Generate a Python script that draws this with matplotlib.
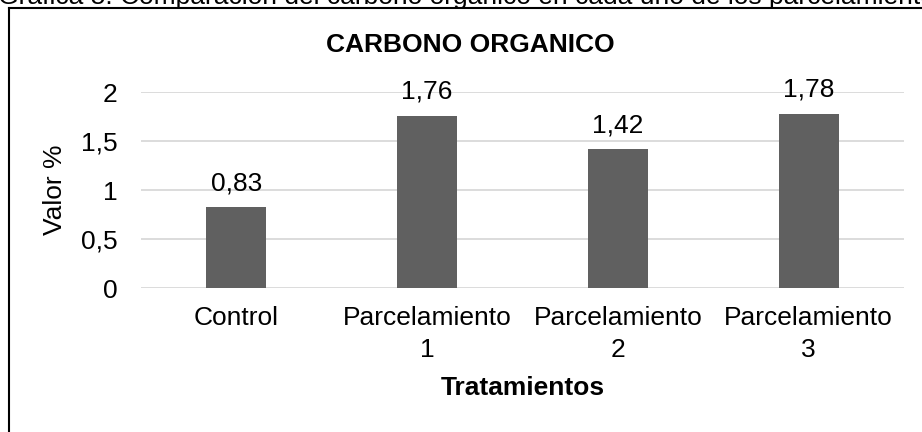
import matplotlib
matplotlib.use("Agg")
from matplotlib import pyplot as plt
from matplotlib.lines import Line2D

plt.rcParams['font.family'] = ['Liberation Sans', 'DejaVu Sans']

# Data
categories: list = ["Control", "Parcelamiento\n1", "Parcelamiento\n2", "Parcelamiento\n3"]
values: list = [0.83, 1.76, 1.42, 1.78]
value_labels: list = ["0,83", "1,76", "1,42", "1,78"]
y_ticks: list = [0, 0.5, 1, 1.5, 2]
y_tick_labels: list = ["0", "0,5", "1", "1,5", "2"]

FS = 19
W, H = 922, 432
fig = plt.figure(figsize=(W / 100, H / 100), dpi=100)

# plot area in pixels: x 141-904, y 92-288 (from top)
ax = fig.add_axes([141 / W, (H - 288) / H, (904 - 141) / W, (288 - 92) / H])
x = list(range(len(categories)))
ax.bar(x, values, width=0.315, color="#606060", zorder=3)
for xi, v, lab in zip(x, values, value_labels):
    ax.text(xi, v + 0.17, lab, ha="center", va="baseline", fontsize=FS, clip_on=False)

ax.set_xlim(-0.5, len(categories) - 0.5)
ax.set_ylim(0, 2)
ax.set_yticks(y_ticks)
ax.set_yticklabels(y_tick_labels, fontsize=FS)
ax.set_xticks(x)
ax.set_xticklabels(categories, fontsize=FS, linespacing=1.4)
ax.tick_params(axis="both", length=0)
ax.tick_params(axis="y", pad=17)
ax.tick_params(axis="x", pad=13)
ax.grid(axis="y", color="#d9d9d9", linewidth=1.3, zorder=0)
for s in ax.spines.values():
    s.set_visible(False)
ax.set_axisbelow(True)

ax.set_ylabel("Valor %", fontsize=FS, labelpad=10)
ax.set_xlabel("Tratamientos", fontsize=FS, fontweight="bold", labelpad=10)

fig.text(470 / W, 1 - 45 / H, "CARBONO ORGANICO", ha="center", va="center",
         fontsize=FS, fontweight="bold")

# caption cut at the top of the image
fig.text(-2 / W, 1 - 4 / H,
         "Gráfica 5. Comparación del carbono orgánico en cada uno de los parcelamientos",
         ha="left", va="baseline", fontsize=FS)

# frame of the chart (left and top edges visible)
fig.add_artist(Line2D([8.5 / W, 8.5 / W], [0, 1 - 8 / H], color="black", linewidth=1.5,
                      transform=fig.transFigure))
fig.add_artist(Line2D([8.5 / W, 1], [1 - 8 / H, 1 - 8 / H], color="black", linewidth=1.5,
                      transform=fig.transFigure))

fig.savefig("out.png", dpi=100)
